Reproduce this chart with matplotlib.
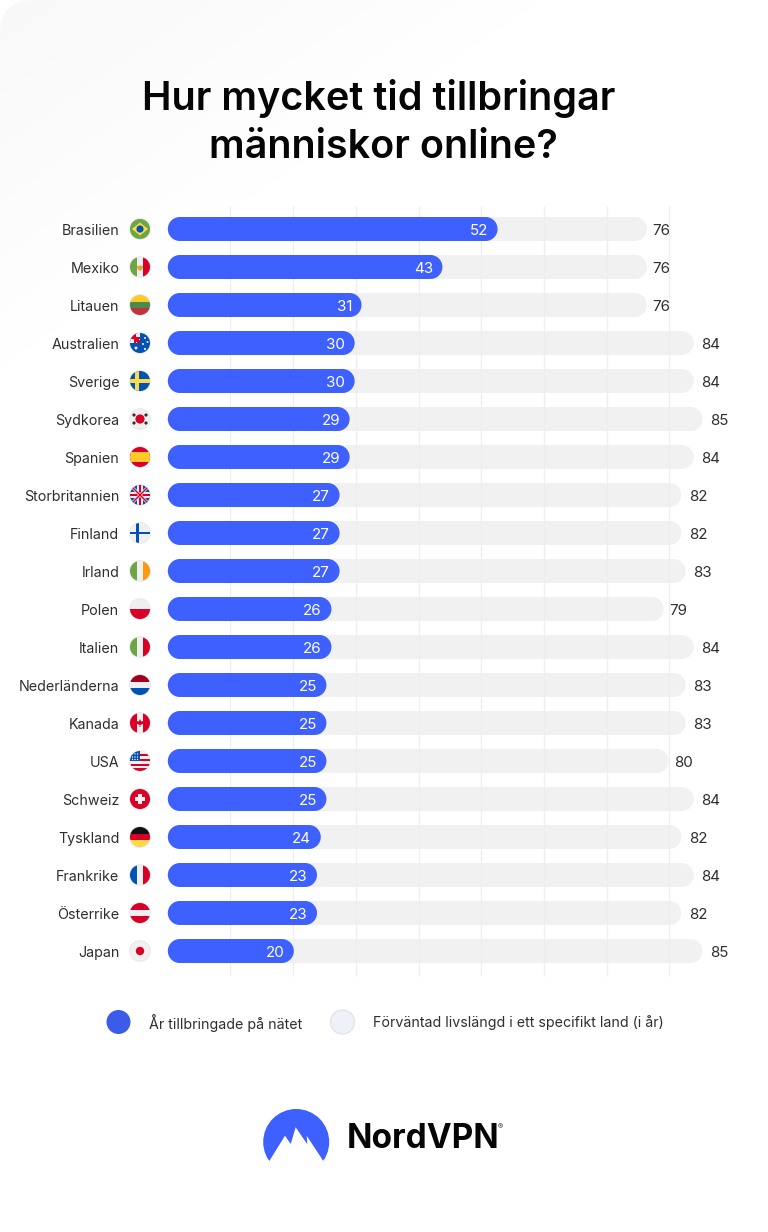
import matplotlib
matplotlib.use("Agg")
import matplotlib.pyplot as plt
from matplotlib.patches import Circle, FancyBboxPatch, Polygon, Rectangle
import numpy as np

plt.rcParams['font.family'] = ['Inter', 'DejaVu Sans']

countries = ["Brasilien", "Mexiko", "Litauen", "Australien", "Sverige", "Sydkorea", "Spanien",
             "Storbritannien", "Finland", "Irland", "Polen", "Italien", "Nederländerna", "Kanada",
             "USA", "Schweiz", "Tyskland", "Frankrike", "Österrike", "Japan"]
years_online = [52, 43, 31, 30, 30, 29, 29, 27, 27, 27, 26, 26, 25, 25, 25, 25, 24, 23, 23, 20]
life_expectancy = [76, 76, 76, 84, 84, 85, 84, 82, 82, 83, 79, 84, 83, 83, 80, 84, 82, 84, 82, 85]
# bar lengths as drawn, they don't quite follow the printed labels
online_drawn = [52.6, 43.8, 30.9, 29.8, 29.8, 29.0, 29.0, 27.4, 27.4, 27.4, 26.1, 26.1,
                25.3, 25.3, 25.3, 25.3, 24.4, 23.8, 23.8, 20.1]
life_drawn = [76.4, 76.4, 76.4, 83.9, 83.9, 85.3, 83.9, 81.9, 81.9, 82.6, 79.1, 83.9,
              82.6, 82.6, 79.9, 83.9, 81.9, 83.9, 81.9, 85.3]
grid_values = [10, 20, 30, 40, 50, 60, 70, 80]
legend_labels = ["År tillbringade på nätet", "Förväntad livslängd i ett specifikt land (i år)"]

W, H = 768, 1232
X0, PX_PER_YEAR = 167.8, 6.27
Y0, ROW = 229, 38
BAR_H = 24
BLUE = "#3E60FF"
GREY = "#F1F1F1"
TEXT = "#2f2f2f"


def flag(ax, cx, cy, name):
    clip = Circle((cx, cy), 10, transform=ax.transData)

    def rect(x, y, w, h, color):
        p = Rectangle((cx + x, cy + y), w, h, color=color, lw=0, zorder=6)
        p.set_clip_path(clip)
        ax.add_patch(p)

    def poly(pts, color):
        p = Polygon([(cx + a, cy + b) for a, b in pts], color=color, lw=0, zorder=7)
        p.set_clip_path(clip)
        ax.add_patch(p)

    def dot(x, y, r, color):
        p = Circle((cx + x, cy + y), r, color=color, lw=0, zorder=8)
        p.set_clip_path(clip)
        ax.add_patch(p)

    def hstripes(*cols):
        h = 20 / len(cols)
        for i, c in enumerate(cols):
            rect(-10, -10 + i * h, 20, h, c)

    def vstripes(*cols):
        w = 20 / len(cols)
        for i, c in enumerate(cols):
            rect(-10 + i * w, -10, w, 20, c)

    def cross(x, w, col):
        rect(-10, -w / 2, 20, w, col)
        rect(x - w / 2, -10, w, 20, col)

    red, white, green = "#D80027", "#F0F0F0", "#6DA544"
    navy, yellow = "#0052B4", "#FFDA44"

    ax.add_patch(Circle((cx, cy), 10.8, color="#E6E6E6", lw=0, zorder=5))
    if name == "Brasilien":
        rect(-10, -10, 20, 20, green)
        poly([(-8, 0), (0, -6.5), (8, 0), (0, 6.5)], yellow)
        dot(0, 0, 3.6, navy)
        poly([(-3.5, -0.4), (3.5, 0.6), (3.5, 1.0), (-3.5, 0)], white)
    elif name == "Mexiko":
        vstripes(green, white, red)
        dot(0, 1, 2.6, "#E8A33A")
        rect(-3.2, -1.2, 6.4, 1.8, "#F0B040")
    elif name == "Litauen":
        hstripes("#FFC928", "#4A8A4D", "#C0333C")
    elif name == "Australien":
        rect(-10, -10, 20, 20, navy)
        rect(-10, -10, 10, 10, white)
        poly([(-10, -10), (-7.5, -10), (0, -2.5), (0, 0), (-2.5, 0), (-10, -7.5)], red)
        rect(-6, -10, 2, 10, red)
        rect(-10, -6, 10, 2, red)
        for x, y, r in [(5, -5, 1), (7.5, -1, 1), (3, 1, 1), (5, 6, 1.1), (-4, 5, 1.5)]:
            dot(x, y, r, white)
    elif name == "Sverige":
        rect(-10, -10, 20, 20, navy)
        cross(-3, 3.2, yellow)
    elif name == "Sydkorea":
        rect(-10, -10, 20, 20, white)
        dot(0, 0, 4.6, red)
        p = Polygon([(-4.6, 0), (-2.3, 0.5), (0, 0), (2.3, -0.5), (4.6, 0), (3, 4), (0, 4.6), (-3, 4)],
                    color=navy, lw=0, zorder=8)
        p.set_clip_path(clip)
        ax.add_patch(p)
        for x, y in [(-6, -4), (6, -4), (-6, 4), (6, 4)]:
            dot(x, y, 1.6, "#333333")
    elif name == "Spanien":
        rect(-10, -10, 20, 20, red)
        rect(-10, -5, 20, 10, "#FFC928")
    elif name == "Storbritannien":
        rect(-10, -10, 20, 20, navy)
        poly([(-10, -8), (-8, -10), (10, 8), (8, 10)], white)
        poly([(10, -8), (8, -10), (-10, 8), (-8, 10)], white)
        poly([(-10, -9), (-9, -10), (10, 9), (9, 10)], red)
        poly([(10, -9), (9, -10), (-10, 9), (-9, 10)], red)
        cross(0, 5.5, white)
        cross(0, 2.8, red)
    elif name == "Finland":
        rect(-10, -10, 20, 20, white)
        cross(-2.5, 2.8, navy)
    elif name == "Irland":
        vstripes(green, white, "#FF9811")
    elif name == "Polen":
        hstripes(white, red)
    elif name == "Italien":
        vstripes(green, white, red)
    elif name == "Nederländerna":
        hstripes("#A2001D", white, navy)
    elif name == "Kanada":
        vstripes(red, white, red)
        poly([(0, -4), (1.2, -1.5), (3.5, -2), (2.8, 1), (0.4, 2), (0.4, 4), (-0.4, 4), (-0.4, 2),
              (-2.8, 1), (-3.5, -2), (-1.2, -1.5)], red)
    elif name == "USA":
        rect(-10, -10, 20, 20, white)
        for y in (-7.5, -2.5, 2.5, 7):
            rect(-10, y, 20, 2.5, red)
        rect(-10, -10, 10, 10, navy)
        for x in (-7.5, -5, -2.5):
            for y in (-7, -4, -1.5):
                dot(x, y, 0.7, white)
    elif name == "Schweiz":
        rect(-10, -10, 20, 20, red)
        rect(-5, -1.7, 10, 3.4, white)
        rect(-1.7, -5, 3.4, 10, white)
    elif name == "Tyskland":
        hstripes("#111111", red, "#FFDA44")
    elif name == "Frankrike":
        vstripes(navy, white, red)
    elif name == "Österrike":
        hstripes(red, white, red)
    elif name == "Japan":
        rect(-10, -10, 20, 20, white)
        dot(0, 0, 4.2, red)


def pill(ax, value, row, zorder, **style):
    # axes aren't isotropic, so work out the half circles in data units
    rx = (BAR_H / 2) / PX_PER_YEAR
    ry = (BAR_H / 2) / ROW
    t = np.linspace(-np.pi / 2, np.pi / 2, 24)
    xs = np.r_[value - rx + rx * np.cos(t), rx - rx * np.cos(t[::-1])]
    ys = np.r_[row + ry * np.sin(t), row + ry * np.sin(t[::-1])]
    ax.fill(xs, ys, zorder=zorder, **style)


fig = plt.figure(figsize=(W / 100, H / 100), dpi=100, facecolor="white")

# soft grey corner behind the title
bg = fig.add_axes([0, 0, 1, 1])
xx, yy = np.meshgrid(np.linspace(0, W, 192), np.linspace(0, H, 308))
shade = np.clip(1 - (xx / 620 + yy / 420), 0, 1)
img = bg.imshow(1 - 0.03 * shade, extent=[0, W, H, 0], cmap="gray", vmin=0, vmax=1, aspect="auto", zorder=0)
bg.set_xlim(0, W)
bg.set_ylim(H, 0)
bg.axis("off")
corner = FancyBboxPatch((0, 0), W + 60, H + 60, boxstyle="round,pad=0,rounding_size=34",
                        transform=bg.transData, facecolor="none", edgecolor="none")
bg.add_patch(corner)
img.set_clip_path(corner)

# chart axes cover the page, zero of the scale sits at the bar start
ax = fig.add_axes([0, 0, 1, 1], facecolor="none")
ax.set_xlim(-X0 / PX_PER_YEAR, (W - X0) / PX_PER_YEAR)
ax.set_ylim((H - Y0) / ROW, -Y0 / ROW)
ax.axis("off")

rows = np.arange(len(countries))
for r, v in zip(rows, life_drawn):
    pill(ax, v, r, 2, facecolor=GREY, edgecolor="none")
ax.vlines(grid_values, -23 / ROW, len(countries) - 1 + 25 / ROW, color="#EEEEF0", lw=0.9, zorder=3)
for r, v in zip(rows, online_drawn):
    pill(ax, v, r, 4, facecolor=BLUE, edgecolor="none")

for r, name, on, life, on_d, life_d in zip(rows, countries, years_online, life_expectancy, online_drawn, life_drawn):
    ax.text(-48.5 / PX_PER_YEAR, r + 0.3 / ROW, name, ha="right", va="center_baseline", fontsize=10.3,
            color=TEXT, zorder=9)
    ax.text(on_d - 9.5 / PX_PER_YEAR, r + 0.3 / ROW, str(on), ha="right", va="center_baseline", fontsize=10.9,
            color="white", zorder=9)
    gap = 5.5 if life <= 80 else 7.5
    ax.text(life_d + gap / PX_PER_YEAR, r + 0.3 / ROW, str(life), ha="left", va="center_baseline", fontsize=10.9,
            color=TEXT, zorder=9)

# page furniture in pixel coordinates
deco = fig.add_axes([0, 0, 1, 1], facecolor="none")
deco.set_xlim(0, W)
deco.set_ylim(H, 0)
deco.axis("off")

for r, name in zip(rows, countries):
    flag(deco, 140, Y0 + ROW * r, name)

deco.text(379, 95, "Hur mycket tid tillbringar", ha="center", va="center_baseline", fontsize=28.5,
          fontweight="semibold", color="#050505")
deco.text(383.5, 143, "människor online?", ha="center", va="center_baseline", fontsize=28.5,
          fontweight="semibold", color="#050505")

deco.add_patch(Circle((118.5, 1022), 12, color="#3A5CE8", lw=0))
deco.add_patch(Circle((342.5, 1022), 12, facecolor="#EEF1F7", edgecolor="#E2E4E8", lw=1))
deco.text(149, 1021.5, legend_labels[0], ha="left", va="center_baseline", fontsize=10.25, color=TEXT)
deco.text(373, 1021.5, legend_labels[1], ha="left", va="center_baseline", fontsize=10.25, color=TEXT)

# logo
logo_clip = Circle((296.2, 1142), 33, transform=deco.transData)
logo = Polygon([(269.3, 1161), (255, 1150), (255, 1100), (340, 1100), (340, 1150), (323.3, 1161),
                (306.7, 1135.7), (307.3, 1144.3), (295.7, 1127.3), (290.7, 1144), (285, 1135.7)],
               closed=True, color=BLUE, lw=0)
deco.add_patch(logo)
logo.set_clip_path(logo_clip)
deco.text(347, 1138.5, "NordVPN", ha="left", va="center", fontsize=24, fontweight="bold", color="#050505")
deco.text(498, 1127, "®", ha="left", va="center", fontsize=5.5, color="#222222")

fig.savefig("out.png", dpi=100)
